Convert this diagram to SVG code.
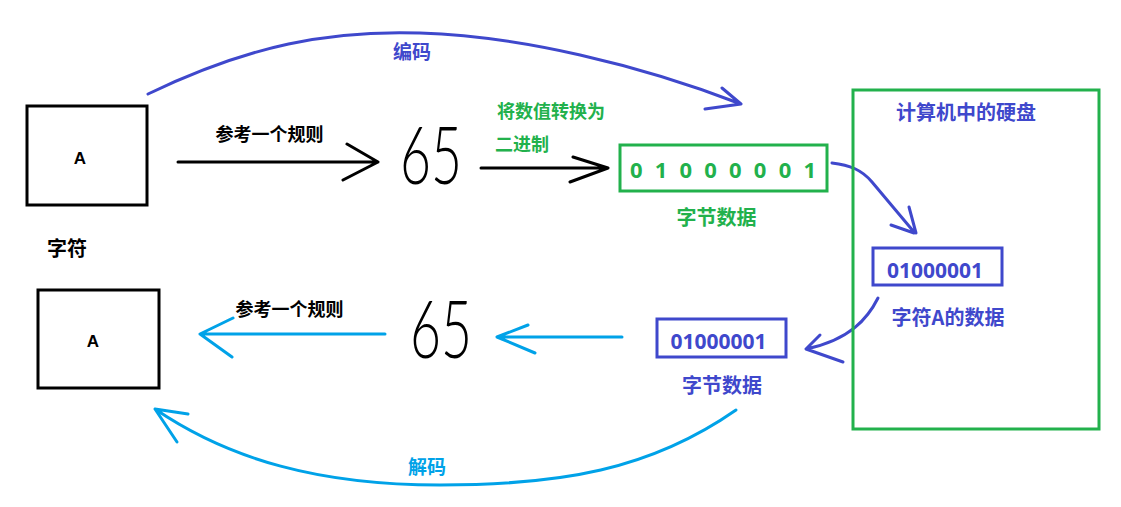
<svg xmlns="http://www.w3.org/2000/svg" width="1121" height="507" viewBox="0 0 1121 507">
<style>
.cj{font-family:"Noto Sans CJK SC","Noto Sans",sans-serif;font-weight:bold;text-anchor:middle}
.k{fill:#000}
.g{fill:#22b14c}
.b{fill:#3f48cc}
.c{fill:#00a2e8}
.box{fill:none;stroke-width:3}
.ln{fill:none;stroke-width:3;stroke-linecap:round;stroke-linejoin:round}
.hw{font-family:Lato,"Open Sans","DejaVu Sans",sans-serif;font-weight:300;fill:#000}
.num{font-family:"Noto Sans","Open Sans",sans-serif;font-weight:bold}
</style>
<rect width="1121" height="507" fill="#fff"/>
<g id="connectors">
  <path class="ln" stroke="#000" d="M178,162 L378,162 M347,144 L378,162 L343,180"/>
  <path class="ln" stroke="#000" d="M481,168 L608,168 M573,157 L608,168 L570,182"/>
  <path class="ln" stroke="#3f48cc" d="M148,94 C250,45 330,30 420,33 C520,36 640,65 741,104 M722,88 L741,104 L705,109"/>
  <path class="ln" stroke="#3f48cc" d="M832,163 C850,165 862,170 872,182 L914,232 M891,225 L914,233 M909,207 L916,233"/>
  <path class="ln" stroke="#3f48cc" d="M878,298 C868,318 850,340 806,349 M820,335 L806,349 L843,362"/>
  <path class="ln" stroke="#00a2e8" d="M622,337 L497,337 M528,325 L497,337 L535,353"/>
  <path class="ln" stroke="#00a2e8" d="M385,334 L200,334 M233,318 L200,334 L232,357"/>
  <path class="ln" stroke="#00a2e8" d="M736,410 C650,470 560,485 440,485 C320,485 230,460 155,409 M188,414 L155,409 L177,442"/>
</g>
<g id="charA-top">
  <rect class="box" stroke="#000" x="27" y="106" width="120" height="99"/>
  <text x="80" y="164" font-family="Liberation Sans,Arial,sans-serif" font-weight="bold" font-size="17" text-anchor="middle">A</text>
</g>
<g id="label-char">
  <text class="cj k" x="67" y="256" font-size="20">字符</text>
</g>
<g id="charA-bottom">
  <rect class="box" stroke="#000" x="38" y="290" width="121" height="98"/>
  <text x="93" y="347" font-family="Liberation Sans,Arial,sans-serif" font-weight="bold" font-size="17" text-anchor="middle">A</text>
</g>
<g id="rule-top">
  <text class="cj k" x="269.5" y="141" font-size="18">参考一个规则</text>
</g>
<g id="n65-top">
  <text class="hw" x="400" y="184" font-size="80" textLength="62" lengthAdjust="spacingAndGlyphs">65</text>
</g>
<g id="convert-label">
  <text class="cj g" x="551" y="118" font-size="18">将数值转换为</text>
  <text class="cj g" x="522" y="151" font-size="18">二进制</text>
</g>
<g id="byte-green">
  <rect class="box" stroke="#22b14c" x="620" y="145" width="207" height="46"/>
  <text class="num g" x="630" y="178" font-size="22" textLength="186" lengthAdjust="spacing">0 1 0 0 0 0 0 1</text>
  <text class="cj g" x="716.5" y="225" font-size="20">字节数据</text>
</g>
<g id="disk">
  <rect class="box" stroke="#22b14c" x="853" y="90" width="246" height="339"/>
  <text class="cj b" x="966" y="120" font-size="20">计算机中的硬盘</text>
  <rect class="box" stroke="#3f48cc" x="873" y="248" width="129" height="37"/>
  <text class="num b" x="935" y="278" font-size="21" text-anchor="middle">01000001</text>
  <text class="cj b" x="948" y="325" font-size="20">字符A的数据</text>
</g>
<g id="byte-blue">
  <rect class="box" stroke="#3f48cc" x="657" y="319" width="129" height="38"/>
  <text class="num b" x="718.5" y="349" font-size="21" text-anchor="middle">01000001</text>
  <text class="cj b" x="722" y="393" font-size="20">字节数据</text>
</g>
<g id="n65-bottom">
  <text class="hw" x="410" y="358" font-size="80" textLength="62" lengthAdjust="spacingAndGlyphs">65</text>
</g>
<g id="rule-bottom">
  <text class="cj k" x="289.5" y="316" font-size="18">参考一个规则</text>
</g>
<g id="encode-label">
  <text class="cj b" x="412" y="59" font-size="19">编码</text>
</g>
<g id="decode-label">
  <text class="cj c" x="427" y="474" font-size="19">解码</text>
</g>
</svg>
